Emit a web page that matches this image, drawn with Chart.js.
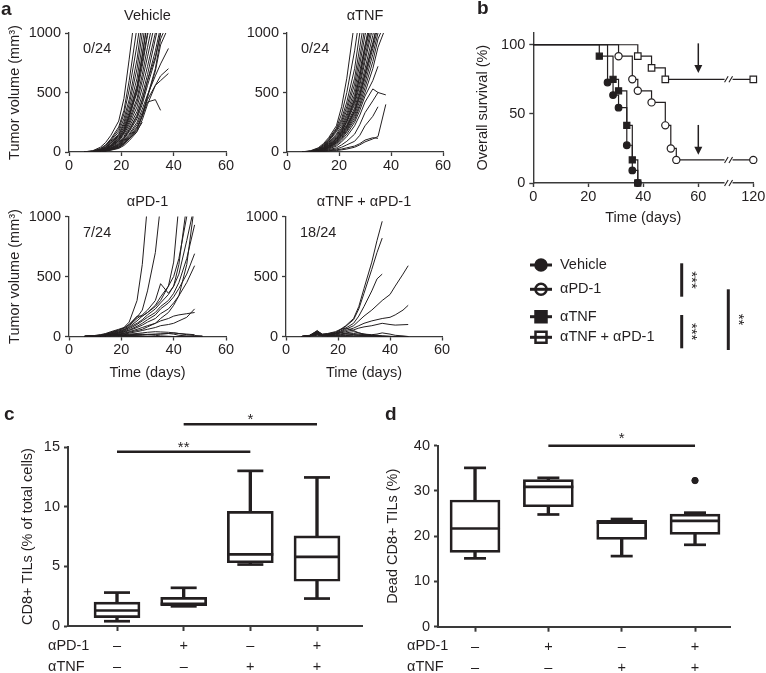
<!DOCTYPE html>
<html><head><meta charset="utf-8">
<script src="https://cdn.jsdelivr.net/npm/chart.js@4"></script>
<style>
html,body{margin:0;padding:0;background:#fff;}
#wrap{position:relative;width:766px;height:673px;overflow:hidden;background:#fff;}
#wrap canvas{position:absolute;left:0;top:0;}
</style></head><body><div id="wrap"></div>
<script>
// ================= DATA =================
// Panel a: tumour growth (mm^3) per mouse, measured on these days
const growthDays = [6, 9, 12, 14, 16, 19, 21, 23, 26, 28, 30, 33, 35, 38];
const vehicleVolumes = [
 [2,10,40,80,140,260,450,780,1300],
 [2,8,30,60,110,210,350,600,1050],
 [1,6,25,55,100,190,320,520,900,1200],
 [1,6,22,45,90,170,280,440,780,1100],
 [1,5,20,40,80,150,250,400,700,1000],
 [1,5,18,38,75,140,230,360,620,900,1200],
 [1,4,15,35,70,130,210,330,560,820,1100],
 [1,4,15,30,60,120,190,300,500,720,980,1300],
 [0,3,12,28,55,110,170,270,450,650,880,1200],
 [0,3,12,25,50,100,160,250,420,600,800,1100],
 [0,3,10,22,45,90,150,230,380,540,720,1000],
 [0,2,10,20,40,80,130,210,340,480,650,950,1150],
 [0,2,8,18,35,70,120,190,310,440,600,850,1050],
 [0,2,8,16,30,60,110,170,280,400,560,780,1000],
 [0,2,6,14,28,55,100,150,250,360,480,640,740,870],
 [0,2,6,12,25,50,90,140,230,330,440,560,600,660],
 [0,1,5,12,22,45,80,130,210,300,420,440,350],
 [0,1,5,10,20,40,70,110,180,250],
 [0,1,4,10,20,40,75,120,200,310,470,700,950,1100],
 [0,1,4,9,18,35,65,110,190,300,460,680,900,1050],
 [0,2,8,20,45,95,170,290,520,800,1100],
 [0,2,10,25,55,110,190,310,540,760,1000,1250],
 [0,1,6,15,32,65,115,180,300,430,600,800,1000],
 [0,1,3,8,15,30,55,95,170,270,400,560,640,700]
];
const antiTnfVolumes = [
 [2,10,35,70,120,220,380,620,1100],
 [1,8,30,60,110,200,320,500,850,1150],
 [1,6,25,55,100,190,280,420,700,1000],
 [1,6,22,50,95,180,260,380,620,880,1150],
 [1,5,20,45,90,170,240,350,570,800,1050],
 [1,5,18,40,80,150,220,320,520,740,980,1300],
 [1,4,16,38,75,140,200,300,480,680,900,1200],
 [1,4,15,35,70,130,190,280,450,630,850,1150],
 [0,3,14,32,65,120,180,260,420,590,800,1100],
 [0,3,12,30,60,110,170,250,400,560,760,1050],
 [0,3,12,28,55,100,160,230,370,520,700,980,1200],
 [0,3,10,25,50,95,150,220,350,490,660,920,1100],
 [0,2,10,22,45,90,140,200,330,460,620,870,1050],
 [0,2,8,20,40,80,130,190,310,430,580,820,1000],
 [0,2,8,18,38,75,120,180,290,400,540,760,950,1100],
 [0,2,6,16,35,70,110,170,270,380,500,700,880,1050],
 [0,2,6,15,30,60,100,150,250,350,470,600,720],
 [0,1,5,12,25,50,85,130,220,310,420,530,500,480],
 [0,1,4,10,20,35,60,90,150,230,330,430,500],
 [0,1,4,8,15,25,40,60,90,140,220,300,380],
 [0,1,3,6,10,18,25,35,50,70,100,120,115],
 [0,1,2,4,8,12,18,25,40,60,85,110,130,400],
 [0,3,12,28,55,110,170,260,440,640,880,1150],
 [0,2,9,22,45,85,140,210,340,480,650,900,1100]
];
const antiPd1Days = [6, 9, 12, 14, 16, 19, 21, 23, 26, 28, 30, 33, 35, 38, 40, 42, 45, 48, 51];
const antiPd1Volumes = [
 [2,6,15,25,40,60,75,120,300,600,1100],
 [2,5,12,20,35,55,70,100,160,220,380,700,1100],
 [1,4,10,20,30,50,70,100,170,170,200,250,300,420,620,1100],
 [1,4,10,18,30,45,60,90,150,180,220,300,440,360,420,600,1100],
 [1,3,8,15,25,40,55,80,130,170,200,260,330,420,500,650,1000,1200],
 [1,3,8,14,22,35,50,75,110,140,180,230,280,350,420,520,800,1100],
 [1,3,7,12,20,32,45,65,100,130,160,200,250,300,360,450,650,930],
 [1,2,6,10,18,28,40,55,85,110,140,180,230,280,330,400,520,690],
 [1,2,6,10,16,25,35,50,75,95,120,150,190,230,280,340,450,590],
 [1,2,5,8,12,20,28,40,60,75,90,110,130,150,170,180,190,200],
 [1,2,5,8,12,18,25,35,50,60,80,110,150,200,260,340,600,1100],
 [0,2,4,7,10,15,20,28,40,50,60,75,90,100,110,130,160,230],
 [0,1,3,5,8,12,15,20,25,30,35,40,38,35,30,25,20,15],
 [0,2,5,8,10,8,5,3,2,1,0,0,0,0,0,0,0,0,0],
 [0,3,6,10,14,12,8,5,3,2,1,0,0,0,0,0,0,0],
 [0,1,3,5,6,5,4,3,2,1,0,0,0,0,0,0,0,0,0],
 [0,2,4,6,8,10,12,15,18,20,15,10,5,2,0,0,0,0],
 [0,1,2,4,6,8,10,12,14,16,18,20,22,25,20,10,5,2,0],
 [0,2,4,5,4,3,2,1,0,0,0,0,0,0,0,0,0,0,0],
 [0,1,2,3,4,5,6,8,10,12,15,18,20,25,30,25,15,8,5]
];
const comboDays = [6, 9, 12, 14, 16, 19, 21, 23, 26, 28, 30, 33, 35, 37, 40, 42, 45, 47];
const comboVolumes = [
 [0,10,45,20,25,40,60,90,150,250,400,620,800,960],
 [0,8,40,18,22,35,55,85,140,230,360,560,700,820],
 [0,6,30,15,20,30,45,70,110,170,250,380,480,520],
 [0,5,25,12,18,28,40,60,90,130,170,220,260,300,350,420,520,590],
 [0,4,20,10,15,25,35,50,70,90,110,130,140,150,160,180,220,260],
 [0,3,15,8,12,20,30,40,55,70,80,90,100,110,100,95,98,100],
 [0,5,50,15,10,20,30,25,15,10,5,0,0,0,0,0,0,0],
 [0,8,35,10,8,15,20,30,40,30,20,10,5,0,0,0,0,0],
 [0,4,20,8,5,10,15,20,25,20,15,10,10,5,0,0,0,0],
 [0,6,40,12,6,8,10,12,15,10,8,5,3,2,0,0,0,0],
 [0,3,25,5,3,5,6,8,10,12,10,8,5,3,2,0,0,0],
 [0,2,10,5,3,2,1,0,0,0,0,0,0,0,0,0,0,0],
 [0,5,30,15,12,25,60,70,50,30,20,15,20,30,20,10,5,0]
];
const growthTitles = ['Vehicle', 'αTNF', 'αPD-1', 'αTNF + αPD-1'];
const tumorFreeCounts = ['0/24', '0/24', '7/24', '18/24'];
const growthXTicks = [0, 20, 40, 60];
const growthYTicks = [0, 500, 1000];

// Panel b: overall survival (%)
const survVehicleDays = [0, 27, 29, 31, 34, 36, 38];
const survVehicle     = [100, 72.7, 63.6, 54.5, 27.3, 9.1, 0];
const survPd1Days     = [0, 31, 36, 38, 43, 48, 50, 52, 120];
const survPd1         = [100, 91.7, 75, 66.7, 58.3, 41.7, 25, 16.7, 16.7];
const survTnfDays     = [0, 24, 29, 31, 34, 36, 38];
const survTnf         = [100, 91.7, 75, 66.7, 41.7, 16.7, 0];
const survComboDays   = [0, 38, 43, 48, 120];
const survCombo       = [100, 91.7, 83.3, 75, 75];
const survDayTicks    = [0, 20, 40, 60, 120];
const survYTicks      = [0, 50, 100];
const survLegend      = ['Vehicle', 'αPD-1', 'αTNF', 'αTNF + αPD-1'];
const survArrowDay    = 60;
const survArrowFrom   = [101, 42];
const survArrowTo     = [79.5, 20.5];

// Panels c, d: box plots
const boxGroups = ['Vehicle', 'αPD-1', 'αTNF', 'αTNF + αPD-1'];
const rowPd1 = ['–', '+', '–', '+'];
const rowTnf = ['–', '–', '+', '+'];
const cMin = [0.4, 1.65, 5.15, 2.3];
const cQ1  = [0.7, 1.7, 5.3, 3.75];
const cMed = [1.3, 1.85, 6.0, 5.8];
const cQ3  = [2.0, 2.4, 9.6, 7.55];
const cMax = [2.8, 3.2, 13.0, 12.45];
const cYTicks = [0, 5, 10, 15];
const cSigFrom = [1, 2], cSigTo = [3, 4], cSigY = [14.6, 16.9], cSigText = ['**', '*'];
const dMin = [15.1, 24.8, 15.6, 18.1];
const dQ1  = [16.4, 26.5, 19.3, 20.4];
const dMed = [21.7, 30.9, 23.0, 23.4];
const dQ3  = [28.0, 32.5, 23.5, 24.9];
const dMax = [35.1, 32.9, 23.8, 25.2];
const dOutlierGroup = [4], dOutlierValue = [32.3];
const dYTicks = [0, 10, 20, 30, 40];
const dSigFrom = [2], dSigTo = [4], dSigY = [40], dSigText = ['*'];

// ================= RENDER =================
const FONT = "'Liberation Sans', Arial, Helvetica, sans-serif";
Chart.defaults.font.family = FONT;
Chart.defaults.font.size = 14.5;
Chart.defaults.color = '#231f20';
Chart.defaults.animation = false;
const INK = '#231f20', AX = '#3a3a3a';
const W = 766, H = 673;
const wrap = document.getElementById('wrap');
function newCanvas(){
  const c = document.createElement('canvas');
  c.width = W; c.height = H; c.style.width = W + 'px'; c.style.height = H + 'px';
  wrap.appendChild(c); return c.getContext('2d');
}
function pad(a, wy, hx){ return {left: a.L - wy, top: a.T, right: W - a.R, bottom: H - a.B - hx}; }
function yAxis(o){
  return {
    type:'linear', position:'left', min:o.min, max:o.max,
    afterBuildTicks: s => { s.ticks = o.ticks.map(v => ({value:v})); },
    afterFit: s => { s.width = o.w; s.paddingTop = 0; s.paddingBottom = 0; },
    grid:{display:true, drawOnChartArea:false, drawTicks:true, tickLength:o.tickLen || 4, tickWidth:o.lw, tickColor:o.color || AX},
    border:{display:true, color:o.color || AX, width:o.lw},
    ticks:{padding:o.tickPad == null ? 4 : o.tickPad, color:INK, font:{size:o.fs || 14.5}, autoSkip:false, callback: v => String(v)},
    title:{display:!!o.title, text:o.title || '', padding:0, color:INK, font:{size:o.fs || 14.5}}
  };
}
function xAxis(o){
  return {
    type:'linear', position:'bottom', min:o.min, max:o.max, offset:false,
    afterBuildTicks: s => { s.ticks = o.ticks.map(v => ({value:v})); },
    afterFit: s => { s.height = o.h; s.paddingLeft = 0; s.paddingRight = 0; },
    grid:{display:true, offset:false, drawOnChartArea:false, drawTicks:true, tickLength:o.tickLen || 4, tickWidth:o.lw, tickColor:o.color || AX},
    border:{display:true, color:o.color || AX, width:o.lw},
    ticks:{padding:o.tickPad == null ? 2 : o.tickPad, color:INK, maxRotation:0, autoSkip:false,
      font:{size:o.fs || 14.5, lineHeight:o.lineHeight || 1.2},
      callback: o.labels ? ((v, i) => o.labels[i]) : (v => String(v))},
    title:{display:!!o.title, text:o.title || '', padding:0, color:INK, font:{size:o.fs || 14.5}}
  };
}
function annot(fn){ return {id:'annot', afterDraw(chart){ const c = chart.ctx; c.save(); fn(c, chart); c.restore(); }}; }
function txt(c, s, x, y, align, font){ c.font = font || ('14.5px ' + FONT); c.fillStyle = INK; c.textAlign = align || 'left'; c.textBaseline = 'middle'; c.fillText(s, x, y); }
const BASE = {responsive:false, devicePixelRatio:1, animation:false, plugins:{legend:{display:false}, tooltip:{enabled:false}}};

// ---- panel a ----
function growthChart(days, series, area, idx, o){
  const datasets = series.map(v => ({
    data: v.map((y, i) => ({x: days[i], y})), borderColor: INK, borderWidth: 1, pointRadius: 0, tension: 0
  }));
  new Chart(newCanvas(), {
    type:'line', data:{datasets},
    options: Object.assign({}, BASE, {
      layout:{padding: pad(area, o.wy, o.hx)},
      scales:{
        x: xAxis({min:0, max:60, ticks:growthXTicks, h:o.hx, title:o.xTitle, lw:1.3, tickPad:1}),
        y: yAxis({min:0, max:1000, ticks:growthYTicks, w:o.wy, title:o.yTitle, lw:1.3})
      }
    }),
    plugins:[annot((c, ch) => {
      const ca = ch.chartArea;
      txt(c, growthTitles[idx], (ca.left + ca.right) / 2, o.titleY, 'center');
      txt(c, tumorFreeCounts[idx], ca.left + 14, ca.top + 16, 'left');
      if (o.letter) txt(c, o.letter, 1, 10, 'left', 'bold 19px ' + FONT);
    })]
  });
}
growthChart(growthDays, vehicleVolumes, {L:69, T:33, R:226, B:152}, 0, {wy:63, hx:25, yTitle:'Tumor volume (mm³)', titleY:16, letter:'a'});
growthChart(growthDays, antiTnfVolumes, {L:287, T:33, R:443, B:152}, 1, {wy:40, hx:25, titleY:16});
growthChart(antiPd1Days, antiPd1Volumes, {L:69, T:216.5, R:226, B:336.5}, 2, {wy:63, hx:45, yTitle:'Tumor volume (mm³)', xTitle:'Time (days)', titleY:202});
growthChart(comboDays, comboVolumes, {L:286, T:216.5, R:442, B:336.5}, 3, {wy:40, hx:45, xTitle:'Time (days)', titleY:202});

// ---- panel b ----
const axisDay = d => d <= 60 ? d : 60 + (d - 60) / 3;   // broken axis 60 -> 120
function survSet(days, vals, style, r, fill){
  return {
    data: days.map((d, i) => ({x: axisDay(d), y: vals[i]})), stepped:'before',
    borderColor: INK, borderWidth: 1.2, pointStyle: style,
    pointRadius: days.map((d, i) => i === 0 ? 0 : r),
    pointBackgroundColor: fill, pointBorderColor: INK, pointBorderWidth: 1.2, clip: false
  };
}
new Chart(newCanvas(), {
  type:'line',
  data:{datasets:[
    survSet(survVehicleDays, survVehicle, 'circle', 3.3, INK),
    survSet(survTnfDays, survTnf, 'rect', 4.3, INK),
    survSet(survPd1Days, survPd1, 'circle', 3.6, '#fff'),
    survSet(survComboDays, survCombo, 'rect', 4.6, '#fff')
  ]},
  options: Object.assign({}, BASE, {
    layout:{padding: pad({L:533.3, T:32.3, R:753.3, B:183}, 58.7, 43.4)},
    scales:{
      x: xAxis({min:0, max:axisDay(120), ticks:survDayTicks.map(axisDay), labels:survDayTicks.map(String), h:43.4, title:'Time (days)', lw:1.4, tickPad:1}),
      y: yAxis({min:0, max:109, ticks:survYTicks, w:58.7, title:'Overall survival (%)', lw:1.4})
    }
  }),
  plugins:[annot((c, ch) => {
    const xs = ch.scales.x, ys = ch.scales.y;
    txt(c, 'b', 477, 9, 'left', 'bold 19px ' + FONT);
    // axis / line breaks
    const bx = xs.getPixelForValue(71);
    [0, survPd1[survPd1.length - 1], survCombo[survCombo.length - 1]].forEach(v => {
      const y = ys.getPixelForValue(v);
      c.fillStyle = '#fff'; c.fillRect(bx - 4, y - 3, 8, 6);
      c.strokeStyle = INK; c.lineWidth = 1.1; c.beginPath();
      [-2.2, 2.2].forEach(dx => { c.moveTo(bx + dx - 1.8, y + 3); c.lineTo(bx + dx + 1.8, y - 3); });
      c.stroke();
    });
    // arrows
    survArrowFrom.forEach((f, i) => {
      const x = xs.getPixelForValue(survArrowDay), y1 = ys.getPixelForValue(f), y2 = ys.getPixelForValue(survArrowTo[i]);
      c.strokeStyle = INK; c.lineWidth = 1.5; c.beginPath(); c.moveTo(x, y1); c.lineTo(x, y2 - 6); c.stroke();
      c.fillStyle = INK; c.beginPath(); c.moveTo(x - 4, y2 - 8); c.lineTo(x + 4, y2 - 8); c.lineTo(x, y2); c.closePath(); c.fill();
    });
    // legend
    const ly = [265, 289.3, 316.7, 337.3];
    const mk = [['circle', true], ['circle', false], ['rect', true], ['rect', false]];
    survLegend.forEach((name, i) => {
      const y = ly[i];
      c.strokeStyle = INK; c.lineWidth = 3; c.beginPath(); c.moveTo(530, y); c.lineTo(552, y); c.stroke();
      c.beginPath();
      if (mk[i][0] === 'circle') c.arc(541, y, 5.5, 0, Math.PI * 2); else c.rect(535.5, y - 5.5, 11, 11);
      if (mk[i][1]) { c.fillStyle = INK; c.fill(); }
      c.lineWidth = 2.5; c.stroke();
      txt(c, name, 560, y, 'left');
    });
    // significance
    c.strokeStyle = INK; c.lineWidth = 3;
    [[681.7, 263.3, 296.7], [681.7, 315, 348.3], [728.3, 289.3, 350]].forEach(s => {
      c.beginPath(); c.moveTo(s[0], s[1]); c.lineTo(s[0], s[2]); c.stroke();
    });
    [['***', 687, 280], ['***', 687, 331.7], ['**', 734, 319.5]].forEach(s => {
      c.save(); c.translate(s[1], s[2]); c.rotate(Math.PI / 2);
      c.font = '15px ' + FONT; c.fillStyle = INK; c.textAlign = 'center'; c.textBaseline = 'alphabetic';
      c.fillText(s[0], 0, 0); c.restore();
    });
  })]
});

// ---- panels c, d ----
function boxChart(st, area, o){
  const xs = st.med.map((_, i) => i + 1);
  const datasets = [
    {type:'bar', data: xs.map((x, i) => ({x, y:[st.min[i], st.max[i]]})), backgroundColor: INK, borderWidth: 0, barThickness: o.lw, grouped: false, order: 4},
    {type:'bar', data: xs.map((x, i) => ({x, y:[st.q1[i], st.q3[i]]})), backgroundColor: '#fff', borderColor: INK, borderWidth: o.lw, borderSkipped: false, barThickness: o.boxW, grouped: false, order: 3},
    {type:'line', showLine: false, data: xs.map((x, i) => ({x, y: st.med[i]})), pointStyle: 'line', pointRadius: o.boxW / 2, pointBorderWidth: o.lw, pointBorderColor: INK, order: 2, clip: false},
    {type:'line', showLine: false, data: xs.flatMap((x, i) => [{x, y: st.min[i]}, {x, y: st.max[i]}]), pointStyle: 'line', pointRadius: o.capW / 2, pointBorderWidth: o.lw, pointBorderColor: INK, order: 2, clip: false}
  ];
  if (o.outG) datasets.push({type:'line', showLine: false, data: o.outG.map((g, i) => ({x: g, y: o.outV[i]})), pointStyle: 'circle', pointRadius: 3.2, pointBackgroundColor: INK, pointBorderColor: INK, order: 1, clip: false});
  new Chart(newCanvas(), {
    type:'bar', data:{datasets},
    options: Object.assign({}, BASE, {
      layout:{padding: pad(area, o.wy, o.hx)},
      scales:{
        x: xAxis({min:o.xmin, max:o.xmax, ticks:[1, 2, 3, 4], labels: xs.map((x, i) => [rowPd1[i], rowTnf[i]]), h:o.hx, lw:2, tickLen:5, tickPad:4.5, lineHeight:1.45}),
        y: yAxis({min:0, max:o.ymax, ticks:o.yticks, w:o.wy, title:o.yTitle, lw:2, tickLen:4, tickPad:4})
      }
    }),
    plugins:[annot((c, ch) => {
      const sx = ch.scales.x, sy = ch.scales.y;
      txt(c, o.letter, o.letterX, 415, 'left', 'bold 19px ' + FONT);
      txt(c, 'αPD-1', o.rowX, 646, 'left');
      txt(c, 'αTNF', o.rowX, 667, 'left');
      o.sig.from.forEach((f, i) => {
        const y = sy.getPixelForValue(o.sig.y[i]);
        const x1 = sx.getPixelForValue(f), x2 = sx.getPixelForValue(o.sig.to[i]);
        c.strokeStyle = INK; c.lineWidth = 2.5; c.beginPath(); c.moveTo(x1, y); c.lineTo(x2, y); c.stroke();
        c.font = '15px ' + FONT; c.fillStyle = INK; c.textAlign = 'center'; c.textBaseline = 'alphabetic';
        c.fillText(o.sig.text[i], (x1 + x2) / 2, y - o.starGap);
      });
    })]
  });
}
boxChart({min:cMin, q1:cQ1, med:cMed, q3:cQ3, max:cMax}, {L:68, T:447, R:362, B:626},
  {wy:48.4, hx:47, xmin:0.265, xmax:4.675, ymax:15, yticks:cYTicks, yTitle:'CD8+ TILs (% of total cells)',
   boxW:46, capW:26, lw:2.7, letter:'c', letterX:4, rowX:48, starGap:0,
   sig:{from:cSigFrom, to:cSigTo, y:cSigY, text:cSigText}});
boxChart({min:dMin, q1:dQ1, med:dMed, q3:dQ3, max:dMax}, {L:438, T:445.7, R:730, B:626.7},
  {wy:54, hx:46.3, xmin:0.495, xmax:4.477, ymax:40, yticks:dYTicks, yTitle:'Dead CD8+ TILs (%)',
   boxW:50, capW:22, lw:2.7, letter:'d', letterX:385, rowX:407, starGap:3, outG:dOutlierGroup, outV:dOutlierValue,
   sig:{from:dSigFrom, to:dSigTo, y:dSigY, text:dSigText}});
</script></body></html>
